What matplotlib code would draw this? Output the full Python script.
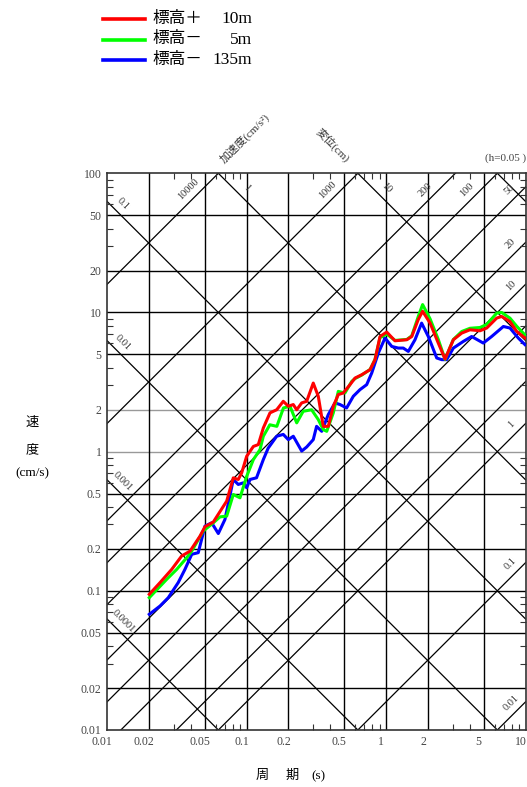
import numpy as np
import matplotlib
matplotlib.use('Agg')
import matplotlib.pyplot as plt
import matplotlib.transforms as mtransforms
from matplotlib.lines import Line2D
from matplotlib.ticker import LogLocator, NullFormatter

plt.rcParams['font.family'] = ['Liberation Serif', 'Noto Sans CJK JP']

# response spectra (period s, velocity cm/s)
T_red = [0.0201, 0.024, 0.0291, 0.0343, 0.0394, 0.0464, 0.0504, 0.0578, 0.0721, 0.0804,
         0.0873, 0.0924, 0.1003, 0.112, 0.1215, 0.132, 0.1474, 0.1646, 0.1835, 0.1994,
         0.2165, 0.229, 0.2487, 0.270, 0.301, 0.327, 0.355, 0.386, 0.419, 0.455,
         0.494, 0.552, 0.600, 0.670, 0.768, 0.834, 0.906, 1.012, 1.16, 1.41,
         1.53, 1.70, 1.83, 2.07, 2.37, 2.65, 3.04, 3.49, 4.0, 4.72,
         5.27, 6.22, 6.75, 7.74, 8.65, 9.92]
V_red = [0.0944, 0.1146, 0.1426, 0.178, 0.193, 0.247, 0.289, 0.312, 0.441, 0.648,
         0.631, 0.705, 0.927, 1.09, 1.124, 1.48, 1.90, 2.00, 2.30, 2.12,
         2.18, 2.00, 2.24, 2.30, 3.11, 2.50, 1.52, 1.52, 2.12, 2.57,
         2.64, 3.03, 3.38, 3.57, 3.88, 4.58, 6.72, 7.23, 6.26, 6.37,
         6.72, 8.86, 10.2, 8.39, 6.03, 4.63, 6.37, 7.11, 7.51, 7.39,
         7.73, 9.12, 9.36, 8.61, 7.31, 6.55]

T_green = [0.0201, 0.0268, 0.0316, 0.0373, 0.0405, 0.049, 0.0578, 0.0646, 0.0721, 0.0804,
           0.0898, 0.1003, 0.112, 0.125, 0.132, 0.147, 0.165, 0.184, 0.205, 0.229,
           0.255, 0.293, 0.327, 0.355, 0.376, 0.419, 0.455, 0.508, 0.568, 0.60,
           0.67, 0.77, 0.834, 0.906, 1.012, 1.16, 1.41, 1.53, 1.70, 1.83,
           2.07, 2.37, 2.65, 3.04, 3.49, 4.0, 4.72, 5.27, 6.22, 6.75,
           7.74, 8.65, 9.92]
V_green = [0.0893, 0.121, 0.1426, 0.173, 0.193, 0.269, 0.308, 0.340, 0.344, 0.492,
           0.466, 0.665, 0.877, 1.035, 1.29, 1.56, 1.52, 2.06, 2.12, 1.61,
           1.95, 2.00, 1.70, 1.44, 1.40, 1.90, 2.71, 2.64, 3.20, 3.35,
           3.55, 3.9, 4.6, 6.6, 7.0, 6.3, 6.4, 6.8, 9.3, 11.4,
           9.0, 6.4, 4.6, 6.4, 7.3, 7.7, 7.8, 8.2, 9.9, 10.0,
           9.1, 7.96, 6.9]

T_blue = [0.0201, 0.024, 0.0275, 0.0324, 0.0362, 0.0405, 0.0451, 0.0504, 0.0563, 0.0628,
          0.0701, 0.0804, 0.0873, 0.0948, 0.1003, 0.106, 0.118, 0.132, 0.143, 0.1646,
          0.1835, 0.1994, 0.2165, 0.2487, 0.270, 0.301, 0.318, 0.346, 0.386, 0.431,
          0.468, 0.522, 0.583, 0.651, 0.727, 0.790, 0.881, 0.984, 1.10, 1.225,
          1.33, 1.445, 1.614, 1.80, 2.01, 2.31, 2.51, 2.72, 3.04, 3.58,
          4.11, 4.98, 5.72, 6.94, 7.74, 8.88, 9.92]
V_blue = [0.0678, 0.0778, 0.0893, 0.1146, 0.1426, 0.183, 0.188, 0.292, 0.308, 0.258,
          0.326, 0.631, 0.581, 0.597, 0.55, 0.631, 0.649, 0.877, 1.06, 1.29,
          1.33, 1.22, 1.29, 1.01, 1.08, 1.22, 1.52, 1.40, 1.85, 2.24,
          2.18, 2.06, 2.50, 2.79, 3.03, 3.67, 5.11, 6.55, 5.70, 5.55,
          5.55, 5.25, 6.37, 8.39, 6.72, 4.71, 4.58, 4.58, 5.55, 6.19,
          6.72, 6.03, 6.72, 7.93, 7.73, 6.55, 5.87]

series_labels = ['標高＋', '標高－', '標高－']
series_levels = ['10m', '5m', '135m']
series_colors = ['#ff0000', '#00ff00', '#0000ff']

# tripartite guide lines
acc_lines = [0.01, 0.1, 1, 2, 5, 10, 20, 50, 100, 200, 1000, 10000]
disp_lines = [0.0001, 0.001, 0.01, 0.1, 1, 10, 100]
acc_top_labels = [10000, 1000, 200, 100, 50]
acc_right_labels = [20, 10, 1, 0.1, 0.01]
disp_left_labels = [0.1, 0.01, 0.001, 0.0001]
disp_top_labels = [1, 10]

x_ticks = [0.01, 0.02, 0.05, 0.1, 0.2, 0.5, 1, 2, 5, 10]
y_ticks = [0.01, 0.02, 0.05, 0.1, 0.2, 0.5, 1, 2, 5, 10, 20, 50, 100]

W, H = 527, 787
fig = plt.figure(figsize=(W / 100, H / 100), dpi=100)
ax = fig.add_axes([107 / W, (H - 730) / H, (525.5 - 107) / W, (730 - 173.3) / H])
ax.set_xscale('log')
ax.set_yscale('log')
ax.set_xlim(0.01, 10)
ax.set_ylim(0.01, 100)

for v in y_ticks[1:-1]:
    col = '#999999' if v in (1, 2) else 'black'
    ax.axhline(v, color=col, lw=1.0, zorder=1)
for t in x_ticks[1:-1]:
    ax.axvline(t, color='black', lw=1.0, zorder=1)

tt = np.array([0.01, 10.0])
for a in acc_lines:
    ax.plot(tt, a * tt / (2 * np.pi), color='black', lw=0.9, zorder=1)
for d in disp_lines:
    ax.plot(tt, 2 * np.pi * d / tt, color='black', lw=0.9, zorder=1)

lab_kw = dict(fontsize=7.5, color='#333333', ha='center', va='center',
              textcoords='offset pixels', annotation_clip=False)
for a in acc_top_labels:
    t = 2 * np.pi * 68 / a
    ax.annotate(f'{a:g}', (t, 68), xytext=(-7, 7), rotation=45, **lab_kw)
for a in acc_right_labels:
    t = 8.8
    ax.annotate(f'{a:g}', (t, a * t / (2 * np.pi)), xytext=(-7, 7), rotation=45, **lab_kw)
for d in disp_left_labels:
    t = 0.0116
    ax.annotate(f'{d:g}', (t, 2 * np.pi * d / t), xytext=(7, 7), rotation=-45, **lab_kw)
for d in disp_top_labels:
    ax.annotate(f'{d:g}', (2 * np.pi * d / 70, 70), xytext=(7, 7), rotation=-45, **lab_kw)

for T, V, c in [(T_blue, V_blue, series_colors[2]),
                (T_green, V_green, series_colors[1]),
                (T_red, V_red, series_colors[0])]:
    ax.plot(T, V, color=c, lw=2.2, zorder=3, solid_joinstyle='round')

ax.set_xticks(x_ticks)
ax.set_xticklabels([f'{t:g}' for t in x_ticks])
ax.set_yticks(y_ticks)
ax.set_yticklabels([f'{v:g}' for v in y_ticks])
ax.xaxis.set_minor_locator(LogLocator(base=10, subs=[3, 4, 6, 7, 8, 9], numticks=20))
ax.yaxis.set_minor_locator(LogLocator(base=10, subs=[3, 4, 6, 7, 8, 9], numticks=20))
ax.xaxis.set_minor_formatter(NullFormatter())
ax.yaxis.set_minor_formatter(NullFormatter())
ax.tick_params(which='major', length=0, labelsize=8.5, labelcolor='#444444', pad=4)
ax.tick_params(which='minor', direction='in', length=4, width=0.8,
               top=True, right=True, color='#333333')
for s in ax.spines.values():
    s.set_color('#333333')
    s.set_linewidth(1.2)

# period labels in the original sit a little left of their grid lines
shift = mtransforms.ScaledTranslation(-0.05, 0, fig.dpi_scale_trans)
for lab in ax.get_xticklabels():
    lab.set_transform(lab.get_transform() + shift)

# axis titles
fig.text(32 / W, 1 - 423 / H, '速', fontsize=9.5, ha='center', va='center')
fig.text(32 / W, 1 - 450 / H, '度', fontsize=9.5, ha='center', va='center')
fig.text(32 / W, 1 - 473 / H, '(cm/s)', fontsize=9.5, ha='center', va='center')
fig.text(262 / W, 1 - 776 / H, '周', fontsize=9.5, ha='center', va='center')
fig.text(292 / W, 1 - 776 / H, '期', fontsize=9.5, ha='center', va='center')
fig.text(318 / W, 1 - 776 / H, '(s)', fontsize=9.5, ha='center', va='center')
fig.text(245 / W, 1 - 138 / H, '加速度(cm/s²)', fontsize=8, rotation=45,
         ha='center', va='center', color='#333333')
fig.text(333 / W, 1 - 145 / H, '変位(cm)', fontsize=8, rotation=-45,
         ha='center', va='center', color='#333333')
fig.text(526 / W, 1 - 158 / H, '(h=0.05 )', fontsize=8, ha='right', va='center',
         color='#444444')

# legend
for i in range(3):
    y = 1 - (19 + 20.5 * i) / H
    fig.add_artist(Line2D([103 / W, 145 / W], [y, y], color=series_colors[i], lw=2.6))
    fig.text(152 / W, y, series_labels[i], fontsize=12, ha='left', va='center')
    fig.text(252 / W, y, series_levels[i], fontsize=12.5, ha='right', va='center')

fig.savefig('out.png', dpi=100)
